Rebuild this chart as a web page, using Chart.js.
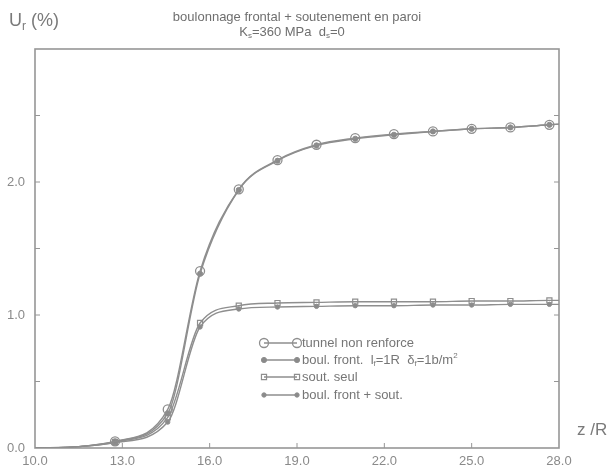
<!DOCTYPE html>
<html><head><meta charset="utf-8">
<script src="https://cdn.jsdelivr.net/npm/chart.js@4.4.1/dist/chart.umd.min.js"></script>
<style>html,body{margin:0;padding:0;background:#fff;}#wrap{width:613px;height:467px;position:relative;}</style>
</head><body><div id="wrap"><canvas id="c" width="613" height="467"></canvas></div>
<script>
// ---- data ----
const zValues = [10.0, 11.5, 12.75, 14.56, 15.67, 17.0, 18.33, 19.67, 21.0, 22.33, 23.67, 25.0, 26.33, 27.67, 28.0];
const tunnelNonRenforce = [0, 0.01, 0.05, 0.29, 1.33, 1.945, 2.165, 2.28, 2.33, 2.36, 2.38, 2.40, 2.41, 2.43, 2.435];
const boulFront = [0, 0.01, 0.05, 0.26, 1.31, 1.94, 2.16, 2.275, 2.325, 2.355, 2.38, 2.40, 2.41, 2.43, 2.435];
const soutSeul = [0, 0.01, 0.045, 0.23, 0.94, 1.07, 1.09, 1.095, 1.10, 1.10, 1.10, 1.105, 1.105, 1.11, 1.11];
const boulFrontSout = [0, 0.01, 0.04, 0.195, 0.91, 1.045, 1.06, 1.065, 1.07, 1.07, 1.075, 1.075, 1.08, 1.08, 1.08];
const seriesLabels = ['tunnel non renforce', 'boul. front.  l_f=1R  δ_f=1b/m^2', 'sout. seul', 'boul. front + sout.'];
const xTicks = [10, 13, 16, 19, 22, 25, 28];
const yTickLabels = [0, 1, 2];
const titleLines = ['boulonnage frontal + soutenement en paroi', 'K_s=360 MPa  d_s=0'];
const yAxisTitle = 'U_r (%)';
const xAxisTitle = 'z /R';

const GRAY = '#8e8e8e';
const TEXT = '#6f6f6f';
const FONT = '"Liberation Sans", Arial, sans-serif';

function pts(ys){ return zValues.map((z,i)=>({x:z,y:ys[i]})); }
const last = zValues.length - 1;
function rad(r){ return ctx => (ctx.dataIndex<2 || ctx.dataIndex===last) ? 0 : r; }

const styles = [
  {pointStyle:'circle', r:4.5, fill:'rgba(255,255,255,0)', bw:1.3},
  {pointStyle:'circle', r:2.6, fill:'#8a8a8a', bw:1},
  {pointStyle:'rect', r:3.6, fill:'rgba(255,255,255,0)', bw:1.2},
  {pointStyle:'circle', r:2.2, fill:'#8a8a8a', bw:1}
];
const seriesData = [tunnelNonRenforce, boulFront, soutSeul, boulFrontSout];

const datasets = seriesData.map((d,i)=>({
  label: seriesLabels[i].replace(/[_^]/g,''),
  data: pts(d),
  borderColor: GRAY,
  borderWidth: 1.4,
  backgroundColor: styles[i].fill,
  pointBackgroundColor: styles[i].fill,
  pointBorderColor: GRAY,
  pointBorderWidth: styles[i].bw,
  pointStyle: styles[i].pointStyle,
  pointRadius: rad(styles[i].r),
  cubicInterpolationMode: 'monotone',
  fill: false
}));

// rich text: _x subscript, ^x superscript
function drawRich(ctx, str, x, y, size, align){
  const segs = [];
  for (let i=0;i<str.length;i++){
    const c = str[i];
    if ((c==='_'||c==='^') && i+1<str.length){ segs.push({t:str[i+1], k:c}); i++; }
    else { if (segs.length && !segs[segs.length-1].k) segs[segs.length-1].t += c; else segs.push({t:c, k:null}); }
  }
  const small = Math.round(size*0.65);
  let w = 0;
  segs.forEach(s=>{ ctx.font = (s.k?small:size)+'px '+FONT; s.w = ctx.measureText(s.t).width; w += s.w; });
  let cx = align==='center' ? x - w/2 : x;
  ctx.textBaseline = 'middle'; ctx.textAlign = 'left';
  segs.forEach(s=>{
    ctx.font = (s.k?small:size)+'px '+FONT;
    const dy = s.k==='_' ? size*0.3 : (s.k==='^' ? -size*0.35 : 0);
    ctx.fillText(s.t, cx, y+dy);
    cx += s.w;
  });
}

const decor = {
  id:'decor',
  beforeDatasetsDraw(chart){
    const {ctx, chartArea:a, scales:{x, y}} = chart;
    ctx.save();
    ctx.strokeStyle = '#969696'; ctx.lineWidth = 1.6;
    ctx.strokeRect(a.left, a.top, a.right-a.left, a.bottom-a.top);
    ctx.lineWidth = 1;
    for (let v=0.5; v<3; v+=0.5){
      const py = y.getPixelForValue(v);
      ctx.beginPath(); ctx.moveTo(a.left, py); ctx.lineTo(a.left+5, py);
      ctx.moveTo(a.right, py); ctx.lineTo(a.right-5, py); ctx.stroke();
    }
    xTicks.slice(1,-1).forEach(v=>{
      const px = x.getPixelForValue(v);
      ctx.beginPath(); ctx.moveTo(px, a.bottom); ctx.lineTo(px, a.bottom-5); ctx.stroke();
    });
    ctx.restore();
  },
  afterDraw(chart){
    const {ctx} = chart;
    ctx.save();
    ctx.fillStyle = TEXT;
    drawRich(ctx, titleLines[0], 297, 17, 13, 'center');
    drawRich(ctx, titleLines[1], 292, 32, 13, 'center');
    ctx.fillStyle = '#7a7a7a';
    drawRich(ctx, yAxisTitle, 9, 21, 18, 'left');
    drawRich(ctx, xAxisTitle, 577, 430, 17, 'left');
    // legend
    const rows = [343, 360, 377, 395];
    chart.data.datasets.forEach((ds,i)=>{
      const yy = rows[i], x0 = 264, x1 = 297;
      ctx.strokeStyle = GRAY; ctx.lineWidth = 1.3;
      ctx.beginPath(); ctx.moveTo(x0, yy); ctx.lineTo(x1, yy); ctx.stroke();
      [x0, x1].forEach(px=>{
        ctx.fillStyle = styles[i].fill; ctx.strokeStyle = GRAY; ctx.lineWidth = styles[i].bw;
        Chart.helpers.drawPoint(ctx, {pointStyle: styles[i].pointStyle, radius: styles[i].r, rotation:0, borderWidth: styles[i].bw}, px, yy);
      });
      ctx.fillStyle = '#767676';
      drawRich(ctx, seriesLabels[i], 302, yy, 13, 'left');
    });
    ctx.restore();
  }
};

new Chart(document.getElementById('c'), {
  type: 'line',
  data: { datasets },
  options: {
    responsive: false,
    animation: false,
    devicePixelRatio: 1,
    layout: { padding: { top: 49, right: 54, left: 0, bottom: 0 } },
    plugins: { legend: { display: false }, title: { display: false }, tooltip: { enabled: false } },
    scales: {
      x: {
        type: 'linear', min: 10, max: 28,
        afterBuildTicks: s => { s.ticks = xTicks.map(v=>({value:v})); },
        afterFit: s => { s.height = 19; },
        ticks: { callback: v => v.toFixed(1), color: '#8a8a8a', font: { family: FONT, size: 13 }, padding: 6, maxRotation: 0, autoSkip: false },
        grid: { display: false, drawTicks: false },
        border: { display: false }
      },
      y: {
        min: 0, max: 3,
        afterBuildTicks: s => { s.ticks = yTickLabels.map(v=>({value:v})); },
        afterFit: s => { s.width = 35; },
        ticks: { callback: v => v.toFixed(1), color: '#8a8a8a', font: { family: FONT, size: 13 }, padding: 10 },
        grid: { display: false, drawTicks: false },
        border: { display: false }
      }
    }
  },
  plugins: [decor]
});
</script>
</body></html>
